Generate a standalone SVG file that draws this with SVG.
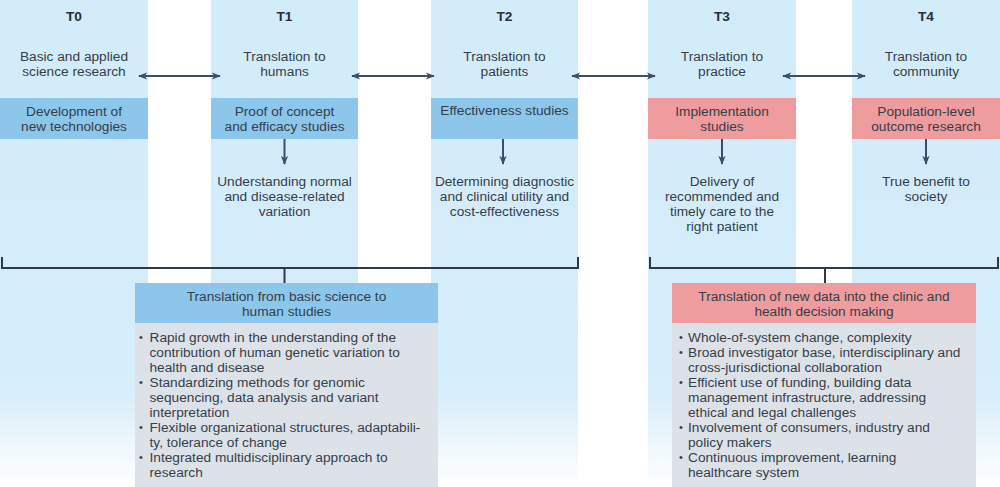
<svg xmlns="http://www.w3.org/2000/svg" width="1000" height="487" viewBox="0 0 1000 487">
<defs>
<linearGradient id="colFade" gradientUnits="userSpaceOnUse" x1="0" y1="0" x2="0" y2="487">
<stop offset="0" stop-color="#d3ecfa"/>
<stop offset="0.8" stop-color="#d6edfa"/>
<stop offset="1" stop-color="#ffffff"/>
</linearGradient>
<marker id="ah" viewBox="0 0 10 10" refX="9" refY="5" markerWidth="9" markerHeight="9" markerUnits="userSpaceOnUse" orient="auto-start-reverse">
<path d="M0,1 L10,5 L0,9 L2.5,5 Z" fill="#3b4f6b"/>
</marker>
<style>
.col{fill:url(#colFade);}
.t{font-family:"Liberation Sans",Arial,sans-serif;font-size:13.7px;fill:#363e4a;text-anchor:middle;}
.h{font-family:"Liberation Sans",Arial,sans-serif;font-size:13.7px;font-weight:bold;fill:#2a2f38;text-anchor:middle;}
.b{font-family:"Liberation Sans",Arial,sans-serif;font-size:13.7px;fill:#363e4a;}
.d{font-family:"Liberation Sans",Arial,sans-serif;font-size:11px;fill:#363e4a;}
.blue{fill:#8cc6ea;}
.red{fill:#ee9c9e;}
.grey{fill:#dde2e9;}
.arr{stroke:#3b4f6b;stroke-width:2;fill:none;}
.br{stroke:#2f3a46;stroke-width:2;fill:none;}
</style>
</defs>
<rect width="1000" height="487" fill="#ffffff"/>
<g id="columns">
<rect class="col" x="0" y="0" width="148" height="487"/>
<rect class="col" x="211" y="0" width="147" height="487"/>
<rect class="col" x="431" y="0" width="147" height="487"/>
<rect class="col" x="648" y="0" width="148" height="487"/>
<rect class="col" x="852" y="0" width="148" height="487"/>
</g>
<g id="T0">
<text class="h" x="74" y="21">T0</text>
<text class="t" x="74" y="61">Basic and applied</text>
<text class="t" x="74" y="76">science research</text>
<rect class="blue" x="0" y="98" width="148" height="41"/>
<text class="t" x="74" y="115.5">Development of</text>
<text class="t" x="74" y="130.5">new technologies</text>
</g>
<g id="T1">
<text class="h" x="284.5" y="21">T1</text>
<text class="t" x="284.5" y="61">Translation to</text>
<text class="t" x="284.5" y="76">humans</text>
<rect class="blue" x="211" y="98" width="147" height="41"/>
<text class="t" x="284.5" y="115.5">Proof of concept</text>
<text class="t" x="284.5" y="130.5">and efficacy studies</text>
<text class="t" x="284.5" y="185.5">Understanding normal</text>
<text class="t" x="284.5" y="200.5">and disease-related</text>
<text class="t" x="284.5" y="215.5">variation</text>
</g>
<g id="T2">
<text class="h" x="504.5" y="21">T2</text>
<text class="t" x="504.5" y="61">Translation to</text>
<text class="t" x="504.5" y="76">patients</text>
<rect class="blue" x="431" y="98" width="147" height="41"/>
<text class="t" x="504.5" y="115">Effectiveness studies</text>
<text class="t" x="504.5" y="185.5">Determining diagnostic</text>
<text class="t" x="504.5" y="200.5">and clinical utility and</text>
<text class="t" x="504.5" y="215.5">cost-effectiveness</text>
</g>
<g id="T3">
<text class="h" x="722" y="21">T3</text>
<text class="t" x="722" y="61">Translation to</text>
<text class="t" x="722" y="76">practice</text>
<rect class="red" x="648" y="98" width="148" height="41"/>
<text class="t" x="722" y="115.5">Implementation</text>
<text class="t" x="722" y="130.5">studies</text>
<text class="t" x="722" y="185.5">Delivery of</text>
<text class="t" x="722" y="200.5">recommended and</text>
<text class="t" x="722" y="215.5">timely care to the</text>
<text class="t" x="722" y="230.5">right patient</text>
</g>
<g id="T4">
<text class="h" x="926" y="21">T4</text>
<text class="t" x="926" y="61">Translation to</text>
<text class="t" x="926" y="76">community</text>
<rect class="red" x="852" y="98" width="148" height="41"/>
<text class="t" x="926" y="115.5">Population-level</text>
<text class="t" x="926" y="130.5">outcome research</text>
<text class="t" x="926" y="185.5">True benefit to</text>
<text class="t" x="926" y="200.5">society</text>
</g>
<g id="connectors">
<line class="arr" x1="139" y1="76" x2="220" y2="76" marker-start="url(#ah)" marker-end="url(#ah)"/>
<line class="arr" x1="352" y1="76" x2="434" y2="76" marker-start="url(#ah)" marker-end="url(#ah)"/>
<line class="arr" x1="572" y1="76" x2="655" y2="76" marker-start="url(#ah)" marker-end="url(#ah)"/>
<line class="arr" x1="783" y1="76" x2="865" y2="76" marker-start="url(#ah)" marker-end="url(#ah)"/>
<line class="arr" x1="284.5" y1="139" x2="284.5" y2="164" marker-end="url(#ah)"/>
<line class="arr" x1="503" y1="139" x2="503" y2="164" marker-end="url(#ah)"/>
<line class="arr" x1="722" y1="139" x2="722" y2="164" marker-end="url(#ah)"/>
<line class="arr" x1="926" y1="139" x2="926" y2="164" marker-end="url(#ah)"/>
<path class="br" d="M2,257 V268 H578 V257"/>
<line class="br" x1="284.5" y1="268" x2="284.5" y2="283"/>
<path class="br" d="M650,257 V268 H998 V257"/>
<line class="br" x1="825" y1="268" x2="825" y2="283"/>
</g>
<g id="summary-left">
<rect class="blue" x="135" y="283" width="303" height="40"/>
<rect class="grey" x="135" y="323" width="303" height="164"/>
<text class="t" x="286.5" y="300.5">Translation from basic science to</text>
<text class="t" x="286.5" y="315.5">human studies</text>
<text class="d" x="139" y="340.5">•</text><text class="b" x="149.5" y="341.5">Rapid growth in the understanding of the</text>
<text class="b" x="149.5" y="356.5">contribution of human genetic variation to</text>
<text class="b" x="149.5" y="371.5">health and disease</text>
<text class="d" x="139" y="385.5">•</text><text class="b" x="149.5" y="386.5">Standardizing methods for genomic</text>
<text class="b" x="149.5" y="401.5">sequencing, data analysis and variant</text>
<text class="b" x="149.5" y="416.5">interpretation</text>
<text class="d" x="139" y="430.5">•</text><text class="b" x="149.5" y="431.5">Flexible organizational structures, adaptabili-</text>
<text class="b" x="149.5" y="446.5">ty, tolerance of change</text>
<text class="d" x="139" y="460.5">•</text><text class="b" x="149.5" y="461.5">Integrated multidisciplinary approach to</text>
<text class="b" x="149.5" y="476.5">research</text>
</g>
<g id="summary-right">
<rect class="red" x="672" y="283" width="304" height="40"/>
<rect class="grey" x="672" y="323" width="304" height="164"/>
<text class="t" x="824" y="300.5">Translation of new data into the clinic and</text>
<text class="t" x="824" y="315.5">health decision making</text>
<text class="d" x="679" y="340.5">•</text><text class="b" x="688" y="341.5">Whole-of-system change, complexity</text>
<text class="d" x="679" y="355.5">•</text><text class="b" x="688" y="356.5">Broad investigator base, interdisciplinary and</text>
<text class="b" x="688" y="371.5">cross-jurisdictional collaboration</text>
<text class="d" x="679" y="385.5">•</text><text class="b" x="688" y="386.5">Efficient use of funding, building data</text>
<text class="b" x="688" y="401.5">management infrastructure, addressing</text>
<text class="b" x="688" y="416.5">ethical and legal challenges</text>
<text class="d" x="679" y="430.5">•</text><text class="b" x="688" y="431.5">Involvement of consumers, industry and</text>
<text class="b" x="688" y="446.5">policy makers</text>
<text class="d" x="679" y="460.5">•</text><text class="b" x="688" y="461.5">Continuous improvement, learning</text>
<text class="b" x="688" y="476.5">healthcare system</text>
</g>
</svg>
